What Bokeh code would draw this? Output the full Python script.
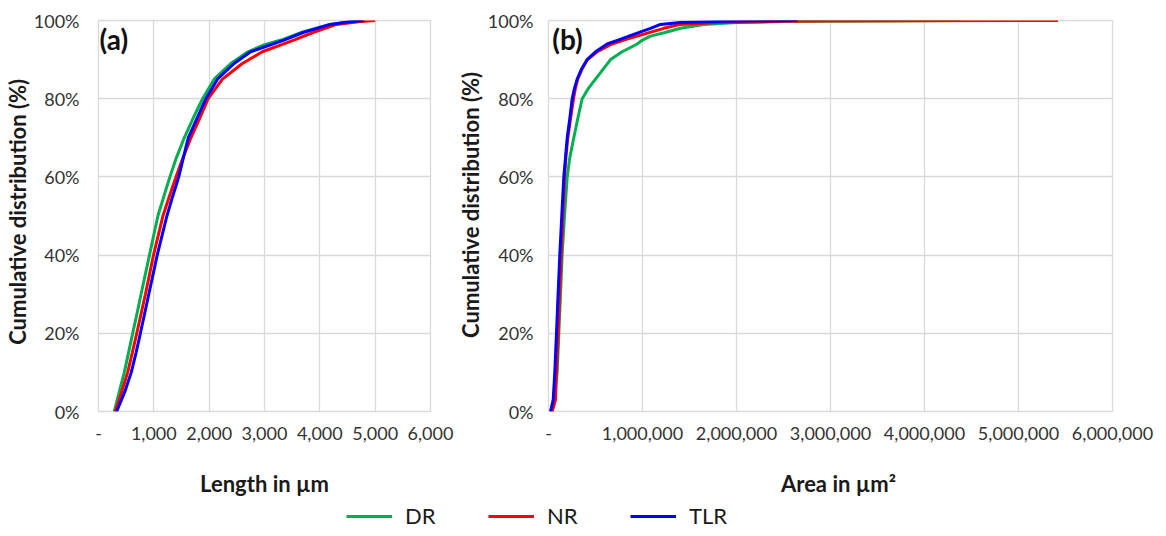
import math
from bokeh.plotting import figure
from bokeh.layouts import row, column
from bokeh.models import (FixedTicker, NumeralTickFormatter, Label, Legend, LegendItem,
                          Range1d)
from bokeh.core.properties import value
from bokeh.embed import file_html
from bokeh.resources import INLINE

# ---------------- data ----------------
series_names = ["DR", "NR", "TLR"]
series_colors = ["#00B050", "#FF0000", "#0000FF"]

# (a) cumulative distribution of length (µm)
len_dr_x = [284, 375, 466, 542, 618, 695, 769, 845, 921, 997, 1073, 1180, 1290, 1410, 1550,
            1710, 1881, 2090, 2390, 2700, 3000, 3300, 3680, 4180, 4750]
len_dr_y = [0, 5, 10, 15, 20, 25, 30, 35, 40, 45, 50, 55, 60, 65, 70,
            75, 80, 85, 89, 92, 93.8, 95, 97, 99, 100]
len_nr_x = [302, 418, 527, 610, 691, 770, 848, 921, 994, 1079, 1164, 1280, 1400, 1530, 1670,
            1830, 1982, 2240, 2600, 2960, 3530, 3890, 4300, 4700, 5000]
len_nr_y = [0, 5, 10, 15, 20, 25, 30, 35, 40, 45, 50, 55, 60, 65, 70,
            75, 80, 85, 89, 92, 95, 97, 99, 99.7, 100]
len_tlr_x = [327, 475, 592, 678, 757, 833, 909, 985, 1061, 1148, 1236, 1340, 1450, 1535, 1622,
             1780, 1940, 2150, 2450, 2750, 3350, 3710, 4190, 4500, 4800]
len_tlr_y = [0, 5, 10, 15, 20, 25, 30, 35, 40, 45, 50, 55, 60, 65, 70,
             75, 80, 85, 89, 92, 95, 97, 99, 99.6, 100]

# (b) cumulative distribution of area (µm²)
area_dr_x = [30000, 60000, 92000, 110000, 128000, 145000, 170000, 199000, 227000, 269000,
             312000, 358000, 420000, 500000, 580000, 660000, 784000, 943000, 1000000,
             1085000, 1250000, 1404000, 1652000, 2000000, 2600000, 3200000, 4380000]
area_dr_y = [0, 3, 10, 20, 30, 40, 50, 60, 65, 70,
             75, 80, 82.5, 85, 87.5, 90, 92, 94, 95,
             96, 97, 98, 99, 99.5, 99.8, 99.9, 100]
area_nr_x = [39000, 74000, 85000, 103000, 118000, 135000, 152000, 170000, 185000, 205000,
             235000, 266000, 285000, 310000, 355000, 415000, 518000, 676000, 800000,
             943000, 1227000, 1404000, 1800000, 2500000, 2850000, 5420000]
area_nr_y = [0, 3, 10, 20, 30, 40, 50, 60, 65, 70,
             75, 80, 82.5, 85, 87.5, 90, 92, 94, 95,
             96, 98, 99, 99.5, 99.8, 99.9, 100]
area_tlr_x = [21000, 50000, 67000, 85000, 102000, 120000, 141000, 163000, 181000, 199000,
              227000, 252000, 275000, 305000, 350000, 411000, 500000, 624000, 740000,
              855000, 1085000, 1191000, 1400000, 1900000, 2650000]
area_tlr_y = [0, 3, 10, 20, 30, 40, 50, 60, 65, 70,
              75, 80, 82.5, 85, 87.5, 90, 92, 94, 95,
              96, 98, 99, 99.5, 99.8, 100]

y_ticks = [0, 20, 40, 60, 80, 100]
y_tick_labels = ["0%", "20%", "40%", "60%", "80%", "100%"]
len_ticks = [0, 1000, 2000, 3000, 4000, 5000, 6000]
area_ticks = [0, 1000000, 2000000, 3000000, 4000000, 5000000, 6000000]
x_titles = ["Length in µm", "Area in µm²"]
y_titles = ["Cumulative distribution  (%)", "Cumulative distribution (%)"]
panel_tags = ["(a)", "(b)"]

FONT = "Lato"
TICK_COLOR = "#333333"
TITLE_COLOR = "#1a1a1a"
GRID = "#D9D9D9"
TOP_H = 460


def blank(p):
    p.axis.visible = False
    p.xgrid.visible = False
    p.ygrid.visible = False
    p.outline_line_color = None
    p.background_fill_color = "white"
    p.border_fill_color = "white"


def style(p, xticks, ystandoff):
    p.xaxis.ticker = FixedTicker(ticks=xticks)
    p.yaxis.ticker = FixedTicker(ticks=y_ticks)
    p.xaxis.formatter = NumeralTickFormatter(format="0,0")
    p.xaxis.major_label_overrides = {0: "-"}
    p.yaxis.major_label_overrides = {t: l for t, l in zip(y_ticks, y_tick_labels)}
    for ax in (p.xaxis, p.yaxis):
        ax.axis_line_color = None
        ax.major_tick_line_color = None
        ax.minor_tick_line_color = None
        ax.major_tick_out = 0
        ax.major_tick_in = 0
        ax.major_label_text_font = FONT
        ax.major_label_text_font_size = "18px"
        ax.major_label_text_color = TICK_COLOR
    p.xaxis.major_label_standoff = 15
    p.yaxis.major_label_standoff = ystandoff
    p.xgrid.grid_line_color = GRID
    p.ygrid.grid_line_color = GRID
    p.xgrid.grid_line_width = 1.3
    p.ygrid.grid_line_width = 1.3
    p.outline_line_color = GRID
    p.outline_line_width = 1.3
    p.background_fill_color = "white"
    p.border_fill_color = "white"


def title_text(p, x, y, text, angle=0.0):
    p.text(x=[x], y=[y], text=[text], angle=angle, text_font=value(FONT),
           text_font_style="bold", text_font_size=value("22px"), text_color=TITLE_COLOR,
           text_align="center", text_baseline="middle")


# ---------------- y-title strips ----------------
t1 = figure(width=30, height=TOP_H, output_backend="svg", toolbar_location=None,
            x_range=Range1d(0, 30), y_range=Range1d(0, TOP_H),
            min_border_left=0, min_border_right=0, min_border_top=0, min_border_bottom=0)
blank(t1)
title_text(t1, 16.5, TOP_H - 222, y_titles[0], angle=math.pi / 2)

t2 = figure(width=27, height=TOP_H, output_backend="svg", toolbar_location=None,
            x_range=Range1d(0, 27), y_range=Range1d(0, TOP_H),
            min_border_left=0, min_border_right=0, min_border_top=0, min_border_bottom=0)
blank(t2)
title_text(t2, 13.5, TOP_H - 217, y_titles[1], angle=math.pi / 2)

# ---------------- panel (a) ----------------
p1 = figure(width=426, height=TOP_H, output_backend="svg", toolbar_location=None,
            x_range=Range1d(0, 6000), y_range=Range1d(0, 100),
            min_border_left=68, min_border_right=26, min_border_top=20, min_border_bottom=49)
style(p1, len_ticks, 19)
for xs, ys, c in zip([len_dr_x, len_nr_x, len_tlr_x], [len_dr_y, len_nr_y, len_tlr_y], series_colors):
    p1.line(xs, ys, line_color=c, line_width=3)
p1.add_layout(Label(x=20, y=99.7, text=panel_tags[0], text_font=FONT, text_font_style="bold",
                    text_font_size="28px", text_baseline="top", text_color="#111111"))

# ---------------- panel (b) ----------------
p2 = figure(width=683, height=TOP_H, output_backend="svg", toolbar_location=None,
            x_range=Range1d(0, 6000000), y_range=Range1d(0, 100),
            min_border_left=65, min_border_right=54, min_border_top=20, min_border_bottom=49)
style(p2, area_ticks, 15)
for xs, ys, c in zip([area_dr_x, area_nr_x, area_tlr_x], [area_dr_y, area_nr_y, area_tlr_y], series_colors):
    p2.line(xs, ys, line_color=c, line_width=3)
p2.add_layout(Label(x=40000, y=99.7, text=panel_tags[1], text_font=FONT, text_font_style="bold",
                    text_font_size="28px", text_baseline="top", text_color="#111111"))

# ---------------- bottom strip: x titles + legend ----------------
BOT_H = 74
strip = figure(width=1166, height=BOT_H, output_backend="svg", toolbar_location=None,
               x_range=Range1d(0, 1166), y_range=Range1d(0, BOT_H),
               min_border_left=0, min_border_right=0, min_border_top=0, min_border_bottom=0)
blank(strip)
title_text(strip, 264, BOT_H - (483 - TOP_H), x_titles[0])
title_text(strip, 838, BOT_H - (483 - TOP_H), x_titles[1])

items = []
for name, c in zip(series_names, series_colors):
    r = strip.line(x=[-50, -40], y=[-50, -40], line_color=c, line_width=3)
    items.append(LegendItem(label=name, renderers=[r]))
legend = Legend(items=items, orientation="horizontal", location=(346, 5),
                glyph_width=46, glyph_height=20, label_standoff=13, label_width=83,
                spacing=0, padding=0, margin=0, border_line_color=None,
                background_fill_alpha=0, label_text_font=FONT, label_text_font_size="22px",
                label_text_color="#1a1a1a")
strip.add_layout(legend)

layout = column(row(t1, p1, t2, p2, spacing=0), strip, spacing=0)
open("out.html", "w").write(file_html(layout, INLINE))
